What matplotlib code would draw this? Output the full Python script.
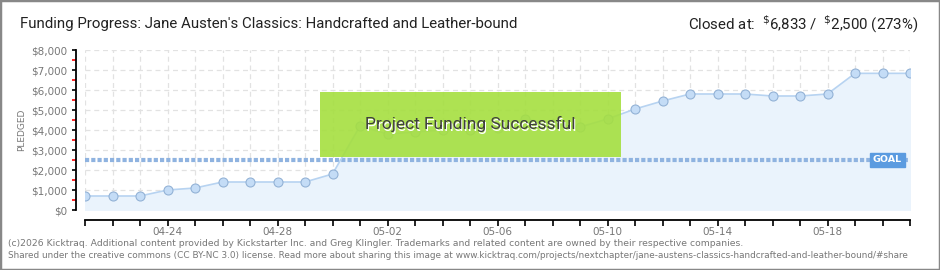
import numpy as np
import pandas as pd
import matplotlib
matplotlib.use("Agg")
import matplotlib.pyplot as plt
from matplotlib.patches import Rectangle
from matplotlib.ticker import MultipleLocator, FuncFormatter

# ── data ─────────────────────────────────────────────
dates = pd.date_range("2024-04-21", "2024-05-21", freq="D")
pledged = [700, 700, 700, 1000, 1100, 1400, 1400, 1400, 1400, 1800,
           4200, 3800, 3900, 4000, 4000, 4100, 4550, 4300, 4150, 4550,
           5050, 5450, 5800, 5800, 5800, 5700, 5700, 5800, 6833, 6833,
           6833]
goal = 2500
label_every = 4

title = "Funding Progress: Jane Austen's Classics: Handcrafted and Leather-bound"
closed_text = r"Closed at:  $^{\$}$6,833 /  $^{\$}$2,500 (273%)"
footer1 = ("(c)2026 Kicktraq. Additional content provided by Kickstarter Inc. and Greg Klingler. "
           "Trademarks and related content are owned by their respective companies.")
footer2 = ("Shared under the creative commons (CC BY-NC 3.0) license. Read more about sharing this image at "
           "www.kicktraq.com/projects/nextchapter/jane-austens-classics-handcrafted-and-leather-bound/#share")

W, H = 940, 270
fig = plt.figure(figsize=(W / 100, H / 100), dpi=100)
ax = fig.add_axes([85 / W, 1 - 210 / H, 825 / W, 160 / H])

x = np.arange(len(dates))

# ── fill, line, markers ──────────────────────────────
ax.fill_between(x, pledged, 0, color="#eaf3fc", zorder=1)
ax.plot(x, pledged, color="#b7d3f1", lw=1.2, zorder=3)
ax.scatter(x, pledged, s=42, facecolor="#c4dcf6", edgecolor="#93b2d6",
           linewidth=0.8, zorder=4)

# ── goal line ────────────────────────────────────────
ax.axhline(goal, color="#8fb3e0", lw=3, ls=(0, (1, 0.5)), zorder=2)
ax.text(0.99, goal, "GOAL", transform=ax.get_yaxis_transform(),
        ha="right", va="center", fontsize=6.8, color="white",
        fontweight="bold", zorder=6,
        bbox=dict(boxstyle="square,pad=0.3", fc="#5b9be0", ec="#5b9be0"))

# ── axes formatting ──────────────────────────────────
ax.set_xlim(0, len(dates) - 1)
ax.set_ylim(0, 8000)
ax.set_xticks(x)
ax.set_xticklabels([d.strftime("%m-%d") if (i - 3) % label_every == 0 else ""
                    for i, d in enumerate(dates)])
ax.yaxis.set_major_locator(MultipleLocator(1000))
ax.yaxis.set_minor_locator(MultipleLocator(500))
ax.yaxis.set_major_formatter(FuncFormatter(lambda v, p: f"${v:,.0f}"))

ax.grid(True, which="major", color="#e2e2e2", ls=(0, (4, 3)), lw=0.9)
ax.set_axisbelow(True)

for s in ["top", "right"]:
    ax.spines[s].set_visible(False)
ax.spines["left"].set_position(("outward", 6.5))
ax.spines["bottom"].set_position(("outward", 7.2))
ax.spines["left"].set_linewidth(1.3)
ax.spines["bottom"].set_linewidth(1.3)

ax.tick_params(axis="y", which="major", length=3, width=1.2, color="black",
               labelsize=7.5, labelcolor="#777777", pad=3)
ax.tick_params(axis="y", which="minor", length=3, width=1.2, color="red")
ax.tick_params(axis="x", which="major", length=4, width=1.2, color="black",
               labelsize=7.5, labelcolor="#777777", pad=1)
ax.set_ylabel("PLEDGED", fontsize=6.5, color="#777777", labelpad=4)
ax.set_facecolor("white")

# ── success banner ───────────────────────────────────
ax.add_patch(Rectangle((0.285, 0.33), 0.365, 0.41, transform=ax.transAxes,
                       fc="#a5df3f", ec="none", alpha=0.9, zorder=5))
ax.text(0.4685, 0.527, "Project Funding Successful", transform=ax.transAxes,
        ha="center", va="center", fontsize=12.5, color="white", zorder=6,
        family=["Roboto", "DejaVu Sans"])
ax.text(0.4675, 0.535, "Project Funding Successful", transform=ax.transAxes,
        ha="center", va="center", fontsize=12.5, color="#3f3f3f", zorder=7,
        family=["Roboto", "DejaVu Sans"])

# ── titles and footer ────────────────────────────────
fig.text(20 / W, 1 - 24 / H, title, fontsize=10.8, color="#222222",
         ha="left", va="center", family=["Roboto", "DejaVu Sans"])
fig.text(918 / W, 1 - 24 / H, closed_text, fontsize=10.8, color="#222222",
         ha="right", va="center", family=["Roboto", "DejaVu Sans"])
fig.text(8 / W, 1 - 243 / H, footer1, fontsize=6.65, color="#777777",
         ha="left", va="center")
fig.text(8 / W, 1 - 256 / H, footer2, fontsize=6.4, color="#777777",
         ha="left", va="center")

fig.patches.append(Rectangle((0, 0), 1, 1, transform=fig.transFigure,
                             fill=False, ec="#888888", lw=2.5))

fig.savefig("out.png", dpi=100, facecolor="white")
